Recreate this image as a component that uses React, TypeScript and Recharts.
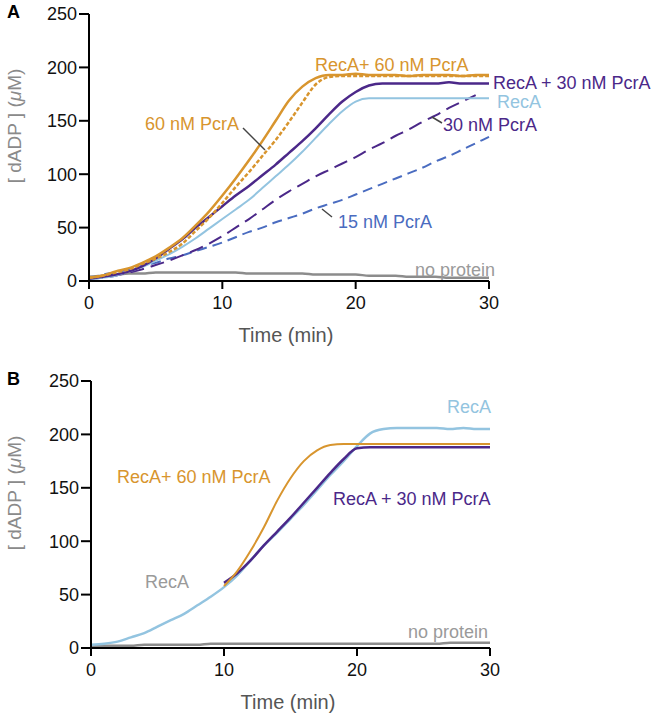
import { LineChart, Line, XAxis, YAxis } from "recharts";

// time axis (min), shared by every trace
const minutes = [0, 1, 2, 3, 4, 5, 6, 7, 8, 9, 10, 11, 12, 13, 14, 15, 16, 17, 18, 19, 20, 21, 22, 23, 24, 25, 26, 27, 28, 29, 30];
const xTicks = [0, 10, 20, 30];
const yTicks = [0, 50, 100, 150, 200, 250];

// panel A, [dADP] in uM
const recA60A = [3, 5, 9, 12, 17, 23, 31, 40, 52, 65, 80, 96, 113, 131, 150, 169, 182, 190, 193, 193, 194, 193, 193, 193, 192, 193, 193, 193, 192, 193, 193];
const pcrA60A = [3, 5, 8, 11, 16, 21, 27, 35, 47, 59, 73, 88, 102, 117, 132, 149, 167, 184, 191, 192, 192, 192, 192, 192, 192, 192, 192, 192, 192, 192, 192];
const recA30A = [2, 4, 6, 9, 14, 21, 30, 39, 50, 60, 70, 80, 89, 99, 109, 120, 131, 143, 156, 168, 177, 183, 185, 185, 185, 185, 185, 186, 185, 185, 185];
const recAA = [1, 3, 5, 9, 13, 19, 25, 32, 40, 49, 58, 67, 76, 87, 98, 109, 121, 134, 147, 159, 168, 171, 171, 171, 171, 171, 171, 171, 171, 171, 171];
const pcrA30A = [2, 3, 5, 8, 11, 15, 19, 24, 29, 35, 42, 50, 58, 67, 76, 84, 91, 98, 104, 110, 116, 123, 129, 136, 142, 149, 155, 162, 168, 174, null];
const pcrA15A = [2, 6, 8, 11, 14, 17, 21, 24, 28, 32, 36, 41, 46, 50, 55, 59, 63, 68, 72, 76, 81, 86, 91, 96, 101, 106, 112, 117, 123, 129, 135];
const noProteinA = [4, 5, 6, 7, 7, 8, 8, 8, 8, 8, 8, 8, 7, 7, 7, 7, 7, 6, 6, 6, 6, 5, 5, 5, 4, 4, 4, 3, 3, 3, 3];

// panel B (PcrA added at 10 min)
const recAB = [3, 4, 6, 10, 14, 20, 26, 32, 40, 48, 57, 68, 82, 96, 108, 121, 134, 148, 162, 175, 189, 201, 205, 206, 206, 206, 206, 205, 206, 205, 205];
const recA60B = [null, null, null, null, null, null, null, null, null, null, 58, 72, 91, 113, 138, 159, 175, 185, 190, 191, 191, 191, 191, 191, 191, 191, 191, 191, 191, 191, 191];
const recA30B = [null, null, null, null, null, null, null, null, null, null, 61, 70, 82, 96, 109, 122, 136, 150, 164, 177, 187, 188, 188, 188, 188, 188, 188, 188, 188, 188, 188];
const noProteinB = [1, 2, 2, 2, 3, 3, 3, 3, 3, 4, 4, 4, 4, 4, 4, 4, 4, 4, 4, 4, 4, 4, 4, 4, 4, 4, 4, 5, 5, 5, 5];

const ORANGE = "#d8952e";
const PURPLE = "#4b2889";
const LIGHT = "#93c4e0";
const BLUE = "#4a6cc0";
const GRAY = "#8c8c8c";
const GRAY_TXT = "#9a9a9a";
const FONT = "'Liberation Sans', Arial, Helvetica, sans-serif";

const rowsA = minutes.map((t, i) => ({
  t,
  recA60: recA60A[i],
  pcrA60: pcrA60A[i],
  recA30: recA30A[i],
  recA: recAA[i],
  pcrA30: pcrA30A[i],
  pcrA15: pcrA15A[i],
  none: noProteinA[i],
}));

const rowsB = minutes.map((t, i) => ({
  t,
  recA: recAB[i],
  recA60: recA60B[i],
  recA30: recA30B[i],
  none: noProteinB[i],
}));

type Series = { key: string; color: string; width: number; dash?: string };

const seriesA: Series[] = [
  { key: "none", color: GRAY, width: 2.5 },
  { key: "pcrA15", color: BLUE, width: 2, dash: "10 6" },
  { key: "pcrA30", color: PURPLE, width: 2, dash: "14 7" },
  { key: "recA", color: LIGHT, width: 2 },
  { key: "recA30", color: PURPLE, width: 2.5 },
  { key: "pcrA60", color: ORANGE, width: 2.5, dash: "4 2" },
  { key: "recA60", color: ORANGE, width: 2.5 },
];

const seriesB: Series[] = [
  { key: "none", color: GRAY, width: 2.5 },
  { key: "recA", color: LIGHT, width: 2.5 },
  { key: "recA30", color: PURPLE, width: 2.5 },
  { key: "recA60", color: ORANGE, width: 2 },
];

const notesA = [
  { text: "RecA+ 60 nM PcrA", x: 315, y: 71, color: ORANGE },
  { text: "60 nM PcrA", x: 145, y: 130, color: ORANGE },
  { text: "RecA + 30 nM PcrA", x: 493, y: 89, color: PURPLE },
  { text: "RecA", x: 497, y: 108, color: LIGHT },
  { text: "30 nM PcrA", x: 443, y: 131, color: PURPLE },
  { text: "15 nM PcrA", x: 338, y: 228, color: BLUE },
  { text: "no protein", x: 415, y: 276, color: GRAY_TXT },
];
const leadersA = [
  [243, 128, 265, 150],
  [432, 117, 442, 123],
  [322, 209, 332, 217],
];
const notesB = [
  { text: "RecA", x: 447, y: 413, color: LIGHT },
  { text: "RecA+ 60 nM PcrA", x: 117, y: 483, color: ORANGE },
  { text: "RecA + 30 nM PcrA", x: 333, y: 505, color: PURPLE },
  { text: "RecA", x: 145, y: 588, color: GRAY_TXT },
  { text: "no protein", x: 408, y: 638, color: GRAY_TXT },
];

const tickStyle = { fontSize: 18, fill: "#111", fontFamily: FONT };
const axisStyle = { stroke: "#000", strokeWidth: 2 };

function Panel({ rows, series, height, margin }: { rows: any[]; series: Series[]; height: number; margin: any }) {
  return (
    <LineChart width={653} height={height} data={rows} margin={margin}>
      <XAxis dataKey="t" type="number" domain={[0, 30]} ticks={xTicks} tick={tickStyle}
        axisLine={axisStyle} tickLine={axisStyle} tickSize={8} tickMargin={7} height={30} />
      <YAxis type="number" domain={[0, 250]} ticks={yTicks} tick={tickStyle}
        axisLine={axisStyle} tickLine={axisStyle} tickSize={10} tickMargin={2} width={60} />
      {series.map((s) => (
        <Line key={s.key} type="monotone" dataKey={s.key} stroke={s.color} strokeWidth={s.width}
          strokeDasharray={s.dash} dot={false} activeDot={false} isAnimationActive={false} />
      ))}
    </LineChart>
  );
}

function YLabel({ cx, cy }: { cx: number; cy: number }) {
  return (
    <text x={cx} y={cy} transform={`rotate(-90 ${cx} ${cy})`} textAnchor="middle" dominantBaseline="central"
      fontSize={19} fill="#8a8a8a" fontFamily={FONT}>
      [ dADP ] (<tspan fontStyle="italic">μ</tspan>M)
    </text>
  );
}

export default function App() {
  return (
    <div style={{ position: "absolute", left: 0, top: 0, width: 653, height: 717, background: "#fff" }}>
      <div style={{ position: "absolute", left: 0, top: 0 }}>
        <Panel rows={rowsA} series={seriesA} height={360} margin={{ top: 14, right: 164, bottom: 49, left: 29 }} />
      </div>
      <div style={{ position: "absolute", left: 0, top: 367 }}>
        <Panel rows={rowsB} series={seriesB} height={350} margin={{ top: 14, right: 163, bottom: 39, left: 31 }} />
      </div>
      <svg width={653} height={717} style={{ position: "absolute", left: 0, top: 0, pointerEvents: "none" }}
        fontFamily={FONT}>
        <text x={7} y={18} fontSize={18} fontWeight="bold" fill="#000">A</text>
        <text x={7} y={385} fontSize={18} fontWeight="bold" fill="#000">B</text>
        <YLabel cx={14} cy={126} />
        <YLabel cx={14} cy={493} />
        <text x={286} y={342} textAnchor="middle" fontSize={20} fill="#555">Time (min)</text>
        <text x={288} y={709} textAnchor="middle" fontSize={20} fill="#555">Time (min)</text>
        {notesA.concat(notesB).map((n, i) => (
          <text key={i} x={n.x} y={n.y} fontSize={18} fill={n.color}>{n.text}</text>
        ))}
        {leadersA.map((l, i) => (
          <line key={i} x1={l[0]} y1={l[1]} x2={l[2]} y2={l[3]} stroke="#444" strokeWidth={1.5} />
        ))}
      </svg>
    </div>
  );
}
